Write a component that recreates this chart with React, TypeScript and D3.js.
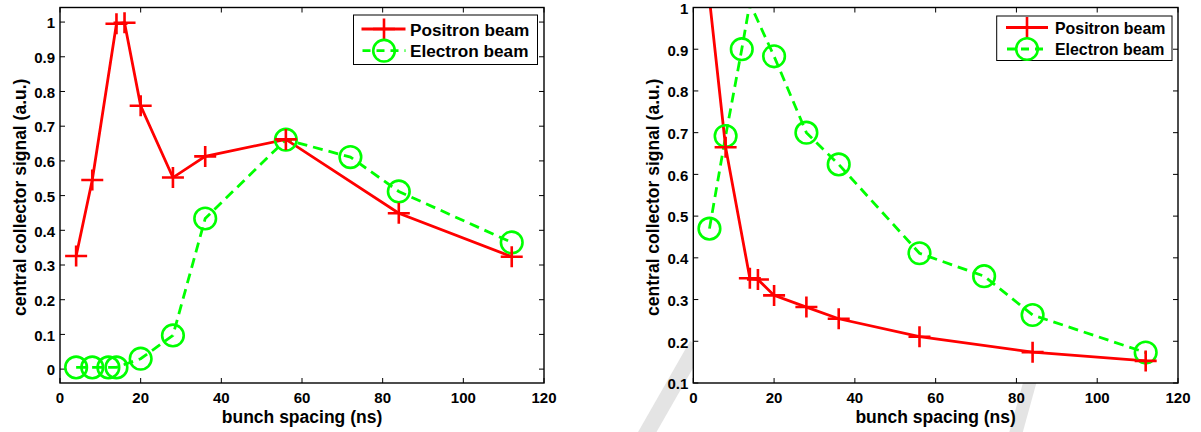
import React from 'react';
import * as d3 from 'd3';

// ---------- data ----------
const xTicks = [0, 20, 40, 60, 80, 100, 120];
const leftYTicks = [0, 0.1, 0.2, 0.3, 0.4, 0.5, 0.6, 0.7, 0.8, 0.9, 1];
const rightYTicks = [0.1, 0.2, 0.3, 0.4, 0.5, 0.6, 0.7, 0.8, 0.9, 1];
const seriesNames = ['Positron beam', 'Electron beam'];
const xLabel = 'bunch spacing (ns)';
const yLabel = 'central collector signal (a.u.)';

const leftPositronX = [4, 8, 14, 16, 20, 28, 36, 56, 84, 112];
const leftPositronY = [0.326, 0.545, 0.995, 0.998, 0.759, 0.552, 0.613, 0.662, 0.449, 0.324];
const leftElectronX = [4, 8, 12, 14, 20, 28, 36, 56, 72, 84, 112];
const leftElectronY = [0.005, 0.005, 0.005, 0.005, 0.03, 0.097, 0.434, 0.661, 0.611, 0.512, 0.365];

const rightPositronX = [4, 8, 14, 16, 20, 28, 36, 56, 84, 112];
const rightPositronY = [1.02, 0.665, 0.351, 0.348, 0.31, 0.282, 0.254, 0.211, 0.174, 0.153];
const rightElectronX = [4, 8, 12, 14, 20, 28, 36, 56, 72, 84, 112];
const rightElectronY = [0.47, 0.692, 0.9, 1.01, 0.883, 0.7, 0.624, 0.411, 0.356, 0.263, 0.173];

// ---------- style ----------
const RED = '#ff0000';
const GREEN = '#00ff00';
const FONT = '"Liberation Sans", Arial, Helvetica, sans-serif';
const DASH = '10,6';

type Pt = [number, number];
const zip = (xs: number[], ys: number[]): Pt[] => xs.map((x, i) => [x, ys[i]]);

function Plus({ x, y }: { x: number; y: number }) {
  return <path d={`M${x - 11},${y}H${x + 11}M${x},${y - 10.5}V${y + 10.5}`} stroke={RED} strokeWidth={2.6} fill="none" />;
}
function Ring({ x, y }: { x: number; y: number }) {
  return <circle cx={x} cy={y} r={10.8} stroke={GREEN} strokeWidth={2.6} fill="none" />;
}

interface PanelProps {
  id: string;
  left: number; right: number; top: number; bottom: number;
  yDomain: [number, number];
  yTicks: number[];
  positron: Pt[];
  electron: Pt[];
  ylabelX: number;
  legend: { x0: number; x1: number; y0: number; y1: number; sx0: number; sx1: number; mx: number; rows: number[]; tx: number; base: number[]; fs: number };
}

function Panel(p: PanelProps) {
  const x = d3.scaleLinear().domain([0, 120]).range([p.left, p.right]);
  const y = d3.scaleLinear().domain(p.yDomain).range([p.bottom, p.top]);
  const line = d3.line<Pt>().x(d => x(d[0])).y(d => y(d[1]));
  const inDom = (d: Pt) => d[1] >= p.yDomain[0] && d[1] <= p.yDomain[1];
  const cx = (p.left + p.right) / 2;
  const cy = (p.top + p.bottom) / 2;
  const L = p.legend;
  const TL = 5;
  return (
    <g>
      <defs>
        <clipPath id={`clip-${p.id}`}>
          <rect x={p.left} y={p.top} width={p.right - p.left} height={p.bottom - p.top} />
        </clipPath>
      </defs>
      <rect x={p.left} y={p.top} width={p.right - p.left} height={p.bottom - p.top} fill="#fff" />
      {/* ticks */}
      {xTicks.map(t => (
        <g key={`xt${t}`}>
          <line x1={x(t)} x2={x(t)} y1={p.bottom} y2={p.bottom - TL} stroke="#000" strokeWidth={1} />
          <line x1={x(t)} x2={x(t)} y1={p.top} y2={p.top + TL} stroke="#000" strokeWidth={1} />
          <text x={x(t)} y={p.bottom + 20} textAnchor="middle" fontFamily={FONT} fontWeight="bold" fontSize={15}>{t}</text>
        </g>
      ))}
      {p.yTicks.map(t => (
        <g key={`yt${t}`}>
          <line x1={p.left} x2={p.left + TL} y1={y(t)} y2={y(t)} stroke="#000" strokeWidth={1} />
          <line x1={p.right} x2={p.right - TL} y1={y(t)} y2={y(t)} stroke="#000" strokeWidth={1} />
          <text x={p.left - 5} y={y(t) + 6.3} textAnchor="end" fontFamily={FONT} fontWeight="bold" fontSize={15}>{String(t)}</text>
        </g>
      ))}
      {/* series */}
      <g clipPath={`url(#clip-${p.id})`}>
        <path d={line(p.electron) || ''} stroke={GREEN} strokeWidth={2.8} strokeDasharray={DASH} fill="none" />
        <path d={line(p.positron) || ''} stroke={RED} strokeWidth={2.8} fill="none" />
      </g>
      {p.electron.filter(inDom).map((d, i) => <Ring key={`e${i}`} x={x(d[0])} y={y(d[1])} />)}
      {p.positron.filter(inDom).map((d, i) => <Plus key={`p${i}`} x={x(d[0])} y={y(d[1])} />)}
      {/* box */}
      <rect x={p.left} y={p.top} width={p.right - p.left} height={p.bottom - p.top} fill="none" stroke="#000" strokeWidth={1.4} />
      {/* labels */}
      <text x={cx} y={p.bottom + 40} textAnchor="middle" fontFamily={FONT} fontWeight="bold" fontSize={17.5}>{xLabel}</text>
      <text transform={`translate(${p.ylabelX},${cy + 2}) rotate(-90)`} textAnchor="middle" fontFamily={FONT} fontWeight="bold" fontSize={17.5}>{yLabel}</text>
      {/* legend */}
      <rect x={L.x0} y={L.y0} width={L.x1 - L.x0} height={L.y1 - L.y0} fill="#fff" stroke="#000" strokeWidth={1} />
      <line x1={L.sx0} x2={L.sx1} y1={L.rows[0]} y2={L.rows[0]} stroke={RED} strokeWidth={2.8} />
      <Plus x={L.mx} y={L.rows[0]} />
      <line x1={L.sx0} x2={L.sx1} y1={L.rows[1]} y2={L.rows[1]} stroke={GREEN} strokeWidth={2.8} strokeDasharray="8,6" strokeDashoffset={-1} />
      <Ring x={L.mx} y={L.rows[1]} />
      {seriesNames.map((s, i) => (
        <text key={s} x={L.tx} y={L.base[i]} fontFamily={FONT} fontWeight="bold" fontSize={L.fs}>{s}</text>
      ))}
    </g>
  );
}

export default function App() {
  return (
    <svg width={1201} height={432} style={{ position: 'absolute', left: 0, top: 0, background: '#fff' }}>
      <rect x={0} y={0} width={1201} height={432} fill="#fff" />
      {/* faint watermark strokes */}
      <line x1={645} y1={436} x2={697} y2={345} stroke="#e4e4e4" strokeWidth={16} />
      <line x1={1015} y1={436} x2={1031} y2={378} stroke="#e4e4e4" strokeWidth={13} />
      <Panel
        id="l"
        left={60} right={544} top={7.5} bottom={383}
        yDomain={[-0.04, 1.042]}
        yTicks={leftYTicks}
        positron={zip(leftPositronX, leftPositronY)}
        electron={zip(leftElectronX, leftElectronY)}
        ylabelX={26}
        legend={{ x0: 353.5, x1: 537.5, y0: 15, y1: 64.5, sx0: 361.5, sx1: 405.5, mx: 384, rows: [29, 50.7], tx: 410, base: [35.5, 57], fs: 17.2 }}
      />
      <Panel
        id="r"
        left={693.3} right={1178} top={7.5} bottom={383}
        yDomain={[0.1, 1]}
        yTicks={rightYTicks}
        positron={zip(rightPositronX, rightPositronY)}
        electron={zip(rightElectronX, rightElectronY)}
        ylabelX={658.5}
        legend={{ x0: 996.7, x1: 1172, y0: 16, y1: 60.5, sx0: 1006, sx1: 1048, mx: 1027, rows: [27.5, 49], tx: 1055, base: [33.5, 54.5], fs: 15.9 }}
      />
    </svg>
  );
}
